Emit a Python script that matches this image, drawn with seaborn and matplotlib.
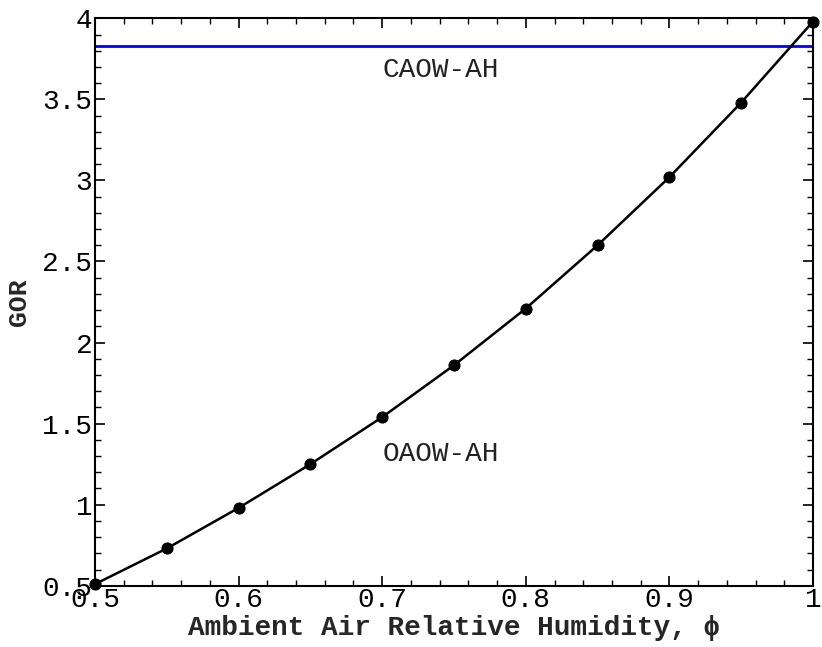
import matplotlib
matplotlib.use("Agg")
import matplotlib.pyplot as plt
import seaborn as sns
import pandas as pd
from matplotlib.ticker import MultipleLocator

humidity = [0.50, 0.55, 0.60, 0.65, 0.70, 0.75, 0.80, 0.85, 0.90, 0.95, 1.00]
gor_oaow = [0.51, 0.73, 0.98, 1.25, 1.54, 1.86, 2.21, 2.60, 3.02, 3.48, 3.98]
gor_caow = 3.83

sns.set_theme(style="ticks")
plt.rcParams['font.family'] = ['Liberation Mono', 'DejaVu Sans']

df = pd.DataFrame({"phi": humidity, "GOR": gor_oaow})

fig = plt.figure(figsize=(8.22, 6.47), dpi=100)
ax = fig.add_axes([0.1156, 0.0947, 0.8734, 0.877])

sns.lineplot(data=df, x="phi", y="GOR", ax=ax, color="black", linewidth=1.8,
             marker="o", markersize=8, markeredgecolor="black", zorder=3, clip_on=False)
ax.axhline(gor_caow, color="#0000ff", linewidth=2)

ax.set_xlim(0.5, 1.0)
ax.set_ylim(0.5, 4.0)
ax.xaxis.set_major_locator(MultipleLocator(0.1))
ax.xaxis.set_minor_locator(MultipleLocator(0.02))
ax.yaxis.set_major_locator(MultipleLocator(0.5))
ax.yaxis.set_minor_locator(MultipleLocator(0.1))

def fmt(v, pos):
    return f"{v:g}"
ax.xaxis.set_major_formatter(matplotlib.ticker.FuncFormatter(fmt))
ax.yaxis.set_major_formatter(matplotlib.ticker.FuncFormatter(fmt))

ax.tick_params(which="both", direction="in", top=True, right=True, colors="black")
ax.tick_params(axis="x", which="major", length=7, width=1.2, labelsize=20, pad=1)
ax.tick_params(axis="y", which="major", length=7, width=1.2, labelsize=20, pad=2)
ax.tick_params(which="minor", length=4, width=1)
for s in ax.spines.values():
    s.set_linewidth(1.5)
    s.set_color("black")

ax.set_xlabel("Ambient Air Relative Humidity, ϕ", fontsize=20, fontweight="bold", labelpad=1)
ax.set_ylabel("GOR", fontsize=19, fontweight="bold", labelpad=8)

ax.text(0.70, 3.68, "CAOW-AH", fontsize=20, ha="left", va="center", color="#222222")
ax.text(0.70, 1.31, "OAOW-AH", fontsize=20, ha="left", va="center", color="#222222")

fig.savefig("out.png", dpi=100)
